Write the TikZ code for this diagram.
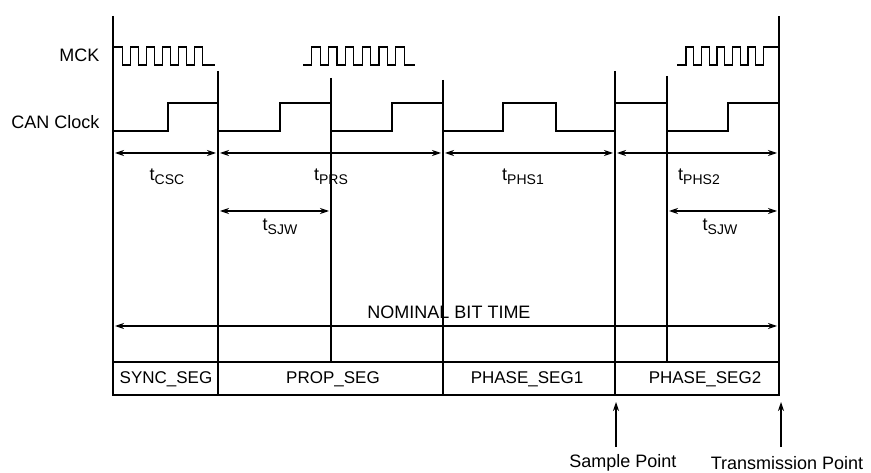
\documentclass[tikz,border=0pt]{standalone}
\usepackage{fontspec}
\setmainfont{Liberation Sans}
\usetikzlibrary{arrows.meta}
\tikzset{
	every node/.style = {font=\fontsize{18}{20}\selectfont}
}
\tikzset{
	wave/.style = {line width=1.2pt},
	span/.style = {line width=1.1pt, {Stealth[length=9pt,width=6pt]}-{Stealth[length=9pt,width=6pt]}, shorten <=2pt, shorten >=2pt},
	pointer/.style = {line width=1.1pt, -{Stealth[length=9pt,width=6pt]}},
	seglabel/.style = {font=\fontsize{17}{19}\selectfont}
}
\newcommand{\tlab}[1]{t\raisebox{-0.45ex}{\fontsize{14}{14}\selectfont #1}}

\begin{document}
\begin{tikzpicture}[x=1pt,y=-1pt]
        \useasboundingbox (0,0) rectangle (871,473);
        \def\mH{47}                                 % MCK high level
        \def\mL{65}                                 % MCK low level
        \def\cH{103}                                % CAN Clock high level
        \def\cL{131}                                % CAN Clock low level
        \def\boxT{362}                              % top of the segment row
        \def\boxB{395}                              % bottom of the segment row

        % Signal names
        \node[anchor=east] (mck) at (103,55) {MCK};
        \node[anchor=east] (can) at (103,122) {CAN Clock};

        % Time quanta boundaries
        \draw[wave] (113,16) -- (113,\boxB);
        \draw[wave] (218,71) -- (218,\boxB);
        \draw[wave] (331,78) -- (331,\boxT);
        \draw[wave] (443,80) -- (443,\boxB);
        \draw[wave] (615,71) -- (615,\boxB);
        \draw[wave] (667,76) -- (667,\boxT);
        \draw[wave] (779,16) -- (779,\boxB);

        % MCK bursts
        \draw[wave] (113,\mH) -- (122.7,\mH) -- (122.7,\mL)
            \foreach \k in {0,...,4}{
                -- ({130.7+16*\k},\mL) -- ({130.7+16*\k},\mH)
                -- ({138.7+16*\k},\mH) -- ({138.7+16*\k},\mL)
            } -- (215,\mL);
        \draw[wave] (303,\mL)
            \foreach \k in {0,...,5}{
                -- ({311.7+16.8*\k},\mL) -- ({311.7+16.8*\k},\mH)
                -- ({320.1+16.8*\k},\mH) -- ({320.1+16.8*\k},\mL)
            } -- (415,\mL);
        \draw[wave] (677,\mL)
            \foreach \k in {0,...,4}{
                -- ({686+15.5*\k},\mL) -- ({686+15.5*\k},\mH)
                -- ({693.75+15.5*\k},\mH) -- ({693.75+15.5*\k},\mL)
            } -- (763.5,\mL) -- (763.5,\mH) -- (779,\mH);

        % CAN Clock
        \draw[wave] (113,\cL) -- (168,\cL) -- (168,\cH) -- (218,\cH) -- (218,\cL)
            -- (280,\cL) -- (280,\cH) -- (331,\cH) -- (331,\cL)
            -- (392,\cL) -- (392,\cH) -- (443,\cH) -- (443,\cL)
            -- (503,\cL) -- (503,\cH) -- (556,\cH) -- (556,\cL)
            -- (615,\cL) -- (615,\cH) -- (667,\cH) -- (667,\cL)
            -- (728,\cL) -- (728,\cH) -- (779,\cH);

        % Segment durations
        \coordinate (a0) at (113,153);
        \coordinate (a1) at (218,153);
        \coordinate (a2) at (443,153);
        \coordinate (a3) at (615,153);
        \coordinate (a4) at (779,153);
        \draw[span] (a0) -- (a1);
        \draw[span] (a1) -- (a2);
        \draw[span] (a2) -- (a3);
        \draw[span] (a3) -- (a4);
        \node (tcsc) at (167,177) {\tlab{CSC}};
        \node (tprs) at (331,177) {\tlab{PRS}};
        \node (tphs1) at (523,177) {\tlab{PHS1}};
        \node (tphs2) at (699,177) {\tlab{PHS2}};

        % Resynchronization jump width
        \coordinate (s0) at (218,211);
        \coordinate (s1) at (331,211);
        \coordinate (s2) at (667,211);
        \coordinate (s3) at (779,211);
        \draw[span] (s0) -- (s1);
        \draw[span] (s2) -- (s3);
        \node (tsjwa) at (280,227) {\tlab{SJW}};
        \node (tsjwb) at (720,227) {\tlab{SJW}};

        % Nominal bit time
        \coordinate (n0) at (113,326);
        \coordinate (n1) at (779,326);
        \draw[span] (n0) -- (n1);
        \node (nbt) at (449,312) {NOMINAL BIT TIME};

        % Segment row
        \draw[wave] (113,\boxT) rectangle (779,\boxB);
        \node[seglabel] (sync) at (166,379) {SYNC\_SEG};
        \node[seglabel] (prop) at (333,379) {PROP\_SEG};
        \node[seglabel] (ph1) at (527,379) {PHASE\_SEG1};
        \node[seglabel] (ph2) at (705,379) {PHASE\_SEG2};

        % Sample and transmission points
        \node (spl) at (623,463) {Sample Point};
        \node (tpl) at (787,463) {Transmission Point};
        \coordinate (spTail) at (616,447);
        \coordinate (spTip) at (616,402);
        \coordinate (tpTail) at (781,447);
        \coordinate (tpTip) at (781,402);
        \draw[pointer] (spTail) -- (spTip);
        \draw[pointer] (tpTail) -- (tpTip);
    \end{tikzpicture}
\end{document}
